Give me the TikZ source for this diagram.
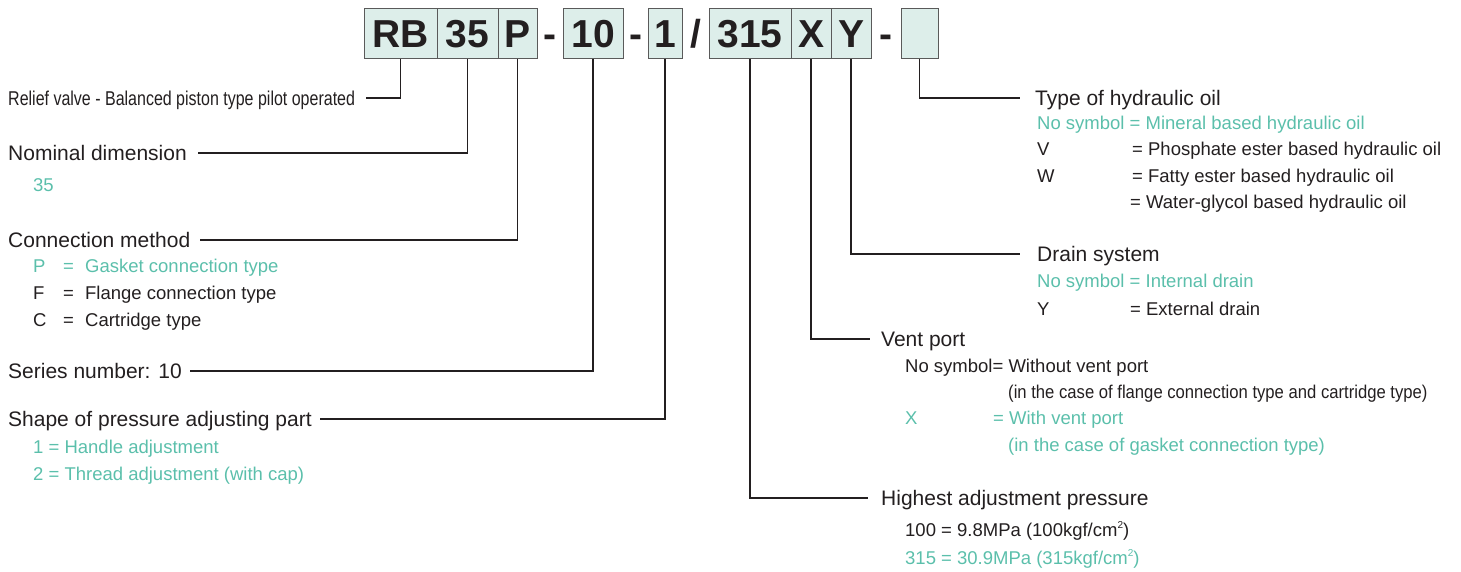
\documentclass[tikz,border=0pt]{standalone}
\usepackage{fontspec}
\setmainfont{Liberation Sans}
\newfontfamily\narrowfont[FakeStretch=0.8]{Liberation Sans}
\newfontfamily\slimfont[FakeStretch=0.9]{Liberation Sans}
\newcommand\sqr{\raisebox{0.45em}{\fontsize{10}{10}\selectfont 2}}
\usetikzlibrary{positioning,calc}
\definecolor{ink}{HTML}{231F20}
\definecolor{teal}{HTML}{5BBFAB}
\definecolor{mint}{HTML}{DDEEEA}
\definecolor{rim}{HTML}{5A5A5A}
\tikzset{cbox/.style={draw=rim,fill=mint,line width=1pt,minimum height=50pt,inner sep=0pt,outer sep=0pt,text height=28pt,text depth=0pt,font=\fontsize{39}{39}\selectfont\bfseries,text=ink},
         joint/.style={inner sep=0pt,text height=28pt,text depth=0pt,font=\fontsize{39}{39}\selectfont\bfseries,text=ink},
         head/.style={anchor=west,inner sep=0pt,text height=15pt,text depth=0pt,font=\fontsize{21}{21}\selectfont,text=ink},
         opt/.style={anchor=west,inner sep=0pt,text height=13.2pt,text depth=0pt,font=\fontsize{18.5}{18.5}\selectfont,text=ink},
         optc/.style={opt,text=teal},
         lead/.style={ink,line width=1.1pt}}

\begin{document}
\begin{tikzpicture}[x=1pt,y=-1pt]
 \useasboundingbox (0,0) rectangle (1461,572);
 \node[cbox,minimum width=73pt,anchor=north west] (rb) at (364,9) {RB};
 \node[cbox,minimum width=61pt,right=0pt of rb] (dim) {35};
 \node[cbox,minimum width=39pt,right=0pt of dim] (con) {P};
 \node[cbox,minimum width=60pt,right=26pt of con] (ser) {10};
 \node[cbox,minimum width=34pt,right=25pt of ser] (adj) {1};
 \node[cbox,minimum width=82pt,right=27pt of adj] (prs) {315};
 \node[cbox,minimum width=40pt,right=0pt of prs] (vnt) {X};
 \node[cbox,minimum width=40pt,right=0pt of vnt] (drn) {Y};
 \node[cbox,minimum width=37pt,right=30pt of drn] (oil) {};
 \node[joint] (h1) at ($(con.east)!.5!(ser.west)$) {-};
 \node[joint] (h2) at ($(ser.east)!.5!(adj.west)$) {-};
 \node[joint] (sl) at ($(adj.east)!.5!(prs.west)$) {/};
 \node[joint] (h3) at ($(drn.east)!.5!(oil.west)$) {-};

 \node[head,font=\narrowfont\fontsize{20}{20}\selectfont,text height=14.3pt] (rel) at (8,98) {Relief valve - Balanced piston type pilot operated};
 \node[head] (nom) at (8,153) {Nominal dimension};
 \node[optc] (n35) at (33,185) {35};
 \node[head] (cm) at (8,240) {Connection method};
 \node[optc] (cp) at (33,266) {\makebox[30pt][l]{P}\makebox[22pt][l]{=}Gasket connection type};
 \node[opt] (cf) at (33,293) {\makebox[30pt][l]{F}\makebox[22pt][l]{=}Flange connection type};
 \node[opt] (cc) at (33,320) {\makebox[30pt][l]{C}\makebox[22pt][l]{=}Cartridge type};
 \node[head] (sn) at (8,371) {Series number: 10};
 \node[head] (sh) at (8,419) {Shape of pressure adjusting part};
 \node[optc] (s1) at (33,447) {1 = Handle adjustment};
 \node[optc] (s2) at (33,474) {2 = Thread adjustment (with cap)};

 \node[head] (ty) at (1035,98) {Type of hydraulic oil};
 \node[optc] (o0) at (1037,123) {No symbol = Mineral based hydraulic oil};
 \node[opt] (ov) at (1037,149) {\makebox[95pt][l]{V}= Phosphate ester based hydraulic oil};
 \node[opt] (ow) at (1037,176) {\makebox[95pt][l]{W}= Fatty ester based hydraulic oil};
 \node[opt] (og) at (1130,202) {= Water-glycol based hydraulic oil};
 \node[head] (dr) at (1037,254) {Drain system};
 \node[optc] (d0) at (1037,281) {No symbol = Internal drain};
 \node[opt] (dy) at (1037,309) {\makebox[93pt][l]{Y}= External drain};
 \node[head] (vp) at (881,339) {Vent port};
 \node[opt] (v0) at (905,366) {No symbol= Without vent port};
 \node[opt,font=\slimfont\fontsize{18.5}{18.5}\selectfont] (v1) at (1008,392) {(in the case of flange connection type and cartridge type)};
 \node[optc] (vx) at (905,418) {\makebox[88pt][l]{X}= With vent port};
 \node[optc] (v2) at (1008,445) {(in the case of gasket connection type)};
 \node[head] (hp) at (881,498) {Highest adjustment pressure};
 \node[opt] (p1) at (905,530) {100 = 9.8MPa (100kgf/cm\sqr)};
 \node[optc] (p2) at (905,558) {315 = 30.9MPa (315kgf/cm\sqr)};

 \draw[lead] (rb.south) |- ([xshift=11pt]rel.east);
 \draw[lead] (dim.south) |- ([xshift=11pt]nom.east);
 \draw[lead] (con.south) |- ([xshift=9pt]cm.east);
 \draw[lead] (ser.south) |- ([xshift=8pt]sn.east);
 \draw[lead] (adj.south) |- ([xshift=8pt]sh.east);
 \draw[lead] (prs.south) |- ([xshift=-13pt]hp.west);
 \draw[lead] (vnt.south) |- ([xshift=-11pt]vp.west);
 \draw[lead] (drn.south) |- ([xshift=-17pt]dr.west);
 \draw[lead] (oil.south) |- ([xshift=-15pt]ty.west);
\end{tikzpicture}
\end{document}
